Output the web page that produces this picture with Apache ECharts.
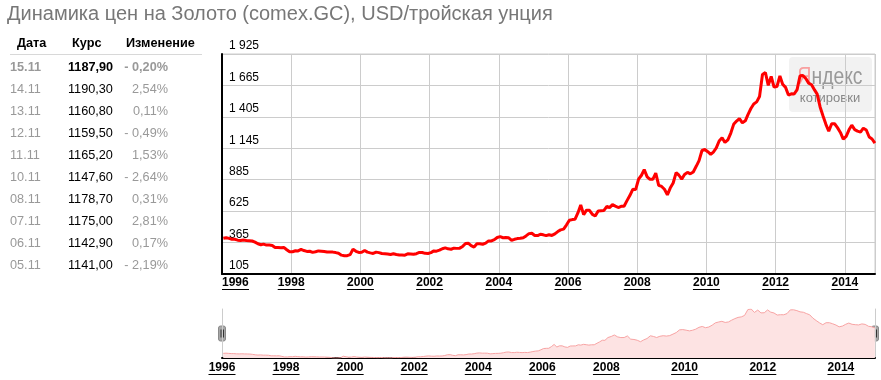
<!DOCTYPE html>
<html>
<head>
<meta charset="utf-8">
<script src="https://cdn.jsdelivr.net/npm/echarts@6/dist/echarts.min.js"></script>
<style>
html,body{margin:0;padding:0;background:#fff;}
#c{width:881px;height:380px;}
</style>
</head>
<body>
<div id="c"></div>
<script>
// ---- data ----
const years = [1996,1997,1998,1999,2000,2001,2002,2003,2004,2005,2006,2007,2008,2009,2010,2011,2012,2013,2014];
const p1996 = [400, 405, 400, 393, 392, 385, 383, 387, 383, 381, 378, 369];
const p1997 = [355, 347, 352, 344, 344, 341, 324, 324, 323, 325, 306, 289];
const p1998 = [289, 297, 296, 308, 299, 292, 293, 284, 289, 296, 294, 291];
const p1999 = [287, 287, 286, 282, 277, 261, 256, 257, 265, 311, 293, 283];
const p2000 = [285, 300, 286, 280, 275, 286, 282, 275, 273, 270, 266, 272];
const p2001 = [266, 262, 263, 261, 272, 270, 268, 273, 283, 283, 276, 275];
const p2002 = [282, 296, 294, 302, 314, 321, 313, 310, 319, 317, 319, 333];
const p2003 = [357, 359, 340, 328, 355, 356, 351, 360, 379, 379, 389, 407];
const p2004 = [414, 405, 406, 404, 384, 392, 398, 400, 405, 420, 439, 442];
const p2005 = [424, 423, 434, 429, 422, 430, 424, 437, 456, 470, 476, 510];
const p2006 = [549, 555, 557, 610, 676, 596, 633, 632, 598, 585, 627, 629];
const p2007 = [631, 665, 654, 679, 667, 655, 665, 665, 712, 754, 806, 803];
const p2008 = [889, 922, 968, 909, 888, 889, 939, 839, 829, 806, 760, 816];
const p2009 = [858, 943, 924, 890, 928, 946, 934, 949, 996, 1043, 1127, 1135];
const p2010 = [1117, 1095, 1114, 1148, 1205, 1232, 1193, 1215, 1271, 1343, 1370, 1391];
const p2011 = [1356, 1372, 1424, 1474, 1512, 1529, 1573, 1756, 1772, 1666, 1739, 1652];
const p2012 = [1656, 1743, 1675, 1649, 1585, 1596, 1594, 1630, 1745, 1747, 1722, 1684];
const p2013 = [1671, 1628, 1593, 1487, 1414, 1343, 1286, 1348, 1348, 1316, 1276, 1221];
const p2014 = [1244, 1300, 1336, 1299, 1287, 1279, 1311, 1296, 1238, 1222, 1187.9];
const yearly = [p1996,p1997,p1998,p1999,p2000,p2001,p2002,p2003,p2004,p2005,p2006,p2007,p2008,p2009,p2010,p2011,p2012,p2013,p2014];

const axisStart = '1996-01-01';
const axisEnd = '2014-11-15';
const lastDate = '2014-11-14';
const tickYears = [1996,1998,2000,2002,2004,2006,2008,2010,2012,2014];
const yMin = 105, yMax = 1925, yStep = 260;

const titleText = 'Динамика цен на Золото (comex.GC), USD/тройская унция';
const tableHead = ['Дата','Курс','Изменение'];
const tableDates = ['15.11','14.11','13.11','12.11','11.11','10.11','08.11','07.11','06.11','05.11'];
const tablePrices = ['1187,90','1190,30','1160,80','1159,50','1165,20','1147,60','1178,70','1175,00','1142,90','1141,00'];
const tableChanges = ['- 0,20%','2,54%','0,11%','- 0,49%','1,53%','- 2,64%','0,31%','2,81%','0,17%','- 2,19%'];

// ---- build series ----
const pad = n => (n < 10 ? '0' : '') + n;
const mainDates = [], mainVals = [];
yearly.forEach((arr, i) => {
  arr.forEach((v, m) => {
    const isLast = (i === yearly.length - 1 && m === arr.length - 1);
    mainDates.push(isLast ? lastDate : (years[i] + '-' + pad(m + 1) + '-15'));
    mainVals.push(v);
  });
});
// date -> fractional year (time scale)
function decYear(d) {
  const p = d.split('-').map(Number);
  const t = Date.UTC(p[0], p[1]-1, p[2]);
  const s = Date.UTC(p[0],0,1), e = Date.UTC(p[0]+1,0,1);
  return p[0] + (t - s) / (e - s);
}
const mainData = mainDates.map((d, i) => [decYear(d), mainVals[i]]);

// slider overview uses a compressed index-like scale (denser after 2008)
const SPLIT_YEAR = 2008, AFTER_WEIGHT = 1.22;
const sPos = t => t < SPLIT_YEAR ? (t - 1996) : (SPLIT_YEAR - 1996) + (t - SPLIT_YEAR) * AFTER_WEIGHT;
const sInv = v => v < (SPLIT_YEAR - 1996) - 1e-9 ? 1996 + v : SPLIT_YEAR + (v - (SPLIT_YEAR - 1996)) / AFTER_WEIGHT;
const sliderData = mainData.map(([t, v]) => [sPos(t), v]);
const sliderMax = sPos(decYear(axisEnd));

const FONT = 'Arial, "Liberation Sans", sans-serif';
const TFS = '12.7px ';
const fmtY = v => v >= 1000 ? Math.floor(v/1000) + ' ' + String(v % 1000).padStart(3,'0') : String(v);
const ulRich = {
  a: { fontFamily: FONT, fontWeight: 'bold', fontSize: 12, color: '#000', lineHeight: 12 },
  u: { width: 27, height: 1, backgroundColor: '#000', fontSize: 1, lineHeight: 1 }
};

const G = { left: 222, right: 6, top: 54, bottom: 106 };
const S = { left: 222, right: 6, top: 309, bottom: 22 };

// ---- graphic: title, table, watermark, handles ----
const gfx = [];
gfx.push({ type: 'text', x: 7, y: 14, style: { text: titleText, font: '20px ' + FONT, fill: '#777', verticalAlign: 'middle' } });
const headX = [17, 72, 126];
tableHead.forEach((h, i) => gfx.push({ type: 'text', x: headX[i], y: 43, style: { text: h, font: 'bold ' + TFS + FONT, fill: '#000', verticalAlign: 'middle' } }));
gfx.push({ type: 'line', shape: { x1: 10, y1: 54.5, x2: 202, y2: 54.5 }, style: { stroke: '#d8d8d8', lineWidth: 1 } });
tableDates.forEach((d, i) => {
  const y = 67 + i * 22.1;
  const b = i === 0 ? 'bold ' : '';
  gfx.push({ type: 'text', x: 10, y: y, style: { text: d, font: b + TFS + FONT, fill: '#999', verticalAlign: 'middle' } });
  gfx.push({ type: 'text', x: 68, y: y, style: { text: tablePrices[i], font: b + TFS + FONT, fill: '#000', verticalAlign: 'middle' } });
  gfx.push({ type: 'text', x: 168, y: y, style: { text: tableChanges[i], font: b + TFS + FONT, fill: '#999', align: 'right', verticalAlign: 'middle' } });
});
// watermark
gfx.push({ type: 'rect', z: 0, shape: { x: 789, y: 57, width: 83, height: 55, r: 4 }, style: { fill: 'rgba(238,238,238,0.75)' } });
gfx.push({ type: 'text', z: 0, x: 830, y: 78, scaleX: 0.84, style: {
  text: '{r|Я}{g|ндекс}', align: 'center', verticalAlign: 'middle',
  rich: { r: { fontFamily: FONT, fontSize: 23, fill: '#f8a0a0' },
          g: { fontFamily: FONT, fontSize: 23, fill: '#999' } } } });
gfx.push({ type: 'text', z: 0, x: 830, y: 98, style: { text: 'котировки', font: '13px ' + FONT, fill: '#888', align: 'center', verticalAlign: 'middle' } });
// slider handles
function handle(cx) {
  const cy = (S.top + (380 - S.bottom)) / 2;
  return { type: 'group', z: 20, children: [
    { type: 'rect', shape: { x: cx - 3.5, y: cy - 7.5, width: 7, height: 15, r: 2 }, style: { fill: '#a8a8a8', stroke: '#8a8a8a', lineWidth: 1 } },
    { type: 'line', shape: { x1: cx - 1, y1: cy - 4, x2: cx - 1, y2: cy + 4 }, style: { stroke: '#333', lineWidth: 1 } },
    { type: 'line', shape: { x1: cx + 1.5, y1: cy - 4, x2: cx + 1.5, y2: cy + 4 }, style: { stroke: '#333', lineWidth: 1 } }
  ]};
}
gfx.push(handle(S.left));
gfx.push(handle(881 - S.right));

const chart = echarts.init(document.getElementById('c'), null, { renderer: 'canvas' });
chart.setOption({
  animation: false,
  backgroundColor: '#fff',
  grid: [
    Object.assign({ show: true, borderColor: '#ccc', borderWidth: 1, containLabel: false }, G),
    Object.assign({ show: false, containLabel: false }, S)
  ],
  xAxis: [
    {
      type: 'value', gridIndex: 0, min: 1996, max: decYear(axisEnd), interval: 2,
      axisLine: { show: true, onZero: false, lineStyle: { color: '#000', width: 2 } },
      axisTick: { show: false },
      splitLine: { show: true, lineStyle: { color: '#ccc', width: 1 } },
      axisLabel: {
        showMaxLabel: false, hideOverlap: false, margin: 3, alignMinLabel: 'left',
        formatter: v => '{a|' + Math.round(v) + '}\n{u| }',
        rich: ulRich
      }
    },
    {
      type: 'value', gridIndex: 1, min: 0, max: sliderMax,
      axisLine: { show: true, onZero: false, lineStyle: { color: '#000', width: 2 } },
      axisTick: { show: false },
      splitLine: { show: false },
      axisLabel: {
        customValues: tickYears.map(y => sPos(y)), margin: 4, hideOverlap: false,
        formatter: v => '{a|' + Math.round(sInv(v)) + '}\n{u| }',
        rich: ulRich
      }
    }
  ],
  yAxis: [
    {
      type: 'value', gridIndex: 0, min: yMin, max: yMax, interval: yStep,
      axisLine: { show: true, onZero: false, lineStyle: { color: '#000', width: 2 } },
      axisTick: { show: false },
      splitLine: { show: true, lineStyle: { color: '#ccc', width: 1 } },
      axisLabel: { inside: true, margin: 7, verticalAlign: 'bottom', padding: [0,0,2,0],
        fontFamily: FONT, fontSize: 12, color: '#000', formatter: fmtY }
    },
    {
      type: 'value', gridIndex: 1, min: 'dataMin', max: 'dataMax', position: 'left',
      axisLine: { show: true, onZero: false, lineStyle: { color: '#ccc', width: 1 } },
      axisTick: { show: false }, axisLabel: { show: false }, splitLine: { show: false }
    },
    {
      type: 'value', gridIndex: 1, min: 'dataMin', max: 'dataMax', position: 'right',
      axisLine: { show: true, onZero: false, lineStyle: { color: '#ccc', width: 1 } },
      axisTick: { show: false }, axisLabel: { show: false }, splitLine: { show: false }
    }
  ],
  series: [
    {
      type: 'line', xAxisIndex: 0, yAxisIndex: 0, data: mainData, z: 5,
      showSymbol: false, smooth: false,
      lineStyle: { color: '#ff0000', width: 3 }
    },
    {
      type: 'line', xAxisIndex: 1, yAxisIndex: 1, data: sliderData,
      showSymbol: false, smooth: false,
      lineStyle: { color: '#f7a3a3', width: 1 },
      areaStyle: { color: '#fde3e3', opacity: 1 }
    }
  ],
  graphic: { elements: gfx }
});
</script>
</body>
</html>
